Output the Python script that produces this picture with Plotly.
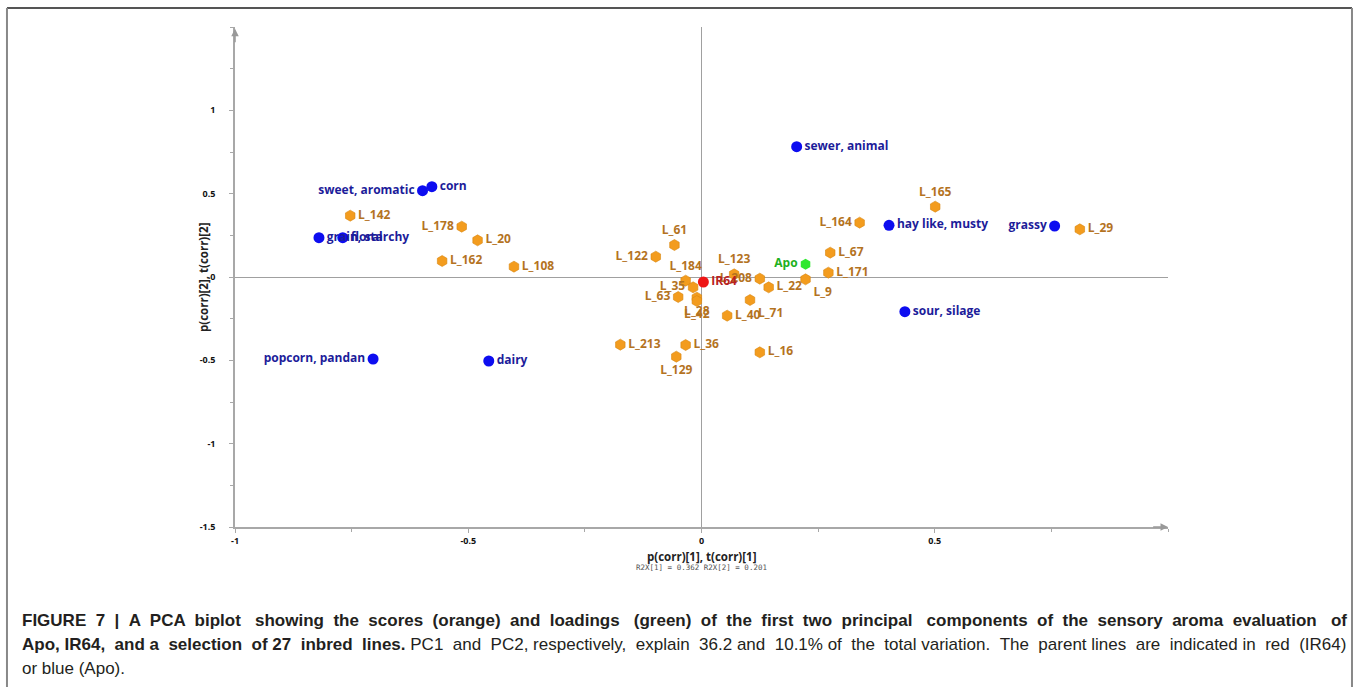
import plotly.graph_objects as go

# ---- PCA scores of the inbred lines (orange) ----
line_names = ["L_165", "L_164", "L_29", "L_67", "L_171", "L_9", "L_22", "L_208",
              "L_123", "L_71", "L_40", "L_16", "L_184", "L_61", "L_122", "L_35",
              "L_63", "L_28", "L_42", "L_213", "L_36", "L_129", "L_142", "L_178",
              "L_20", "L_162", "L_108"]
line_pc1 = [0.501, 0.339, 0.811, 0.276, 0.272, 0.223, 0.144, 0.125,
            0.070, 0.104, 0.055, 0.125, -0.034, -0.058, -0.098, -0.018,
            -0.050, -0.010, -0.010, -0.174, -0.034, -0.054, -0.753, -0.514,
            -0.480, -0.556, -0.402]
line_pc2 = [0.422, 0.326, 0.286, 0.146, 0.026, -0.014, -0.062, -0.010,
            0.016, -0.138, -0.232, -0.452, -0.022, 0.192, 0.122, -0.062,
            -0.120, -0.124, -0.144, -0.406, -0.408, -0.478, 0.368, 0.302,
            0.220, 0.096, 0.062]

# ---- Aroma attribute loadings (blue) ----
attr_names = ["sewer, animal", "hay like, musty", "grassy", "sour, silage",
              "sweet, aromatic", "corn", "grain, starchy", "floral",
              "popcorn, pandan", "dairy"]
attr_pc1 = [0.204, 0.402, 0.757, 0.436, -0.598, -0.578, -0.820, -0.769, -0.704, -0.456]
attr_pc2 = [0.782, 0.310, 0.306, -0.208, 0.518, 0.542, 0.236, 0.236, -0.492, -0.504]

# ---- Parent lines ----
parent_names = ["Apo", "IR64"]
parent_pc1 = [0.223, 0.004]
parent_pc2 = [0.076, -0.030]

# Axis ticks
x_ticks = [-1, -0.5, 0, 0.5]
y_ticks = [-1.5, -1, -0.5, 0, 0.5, 1]

# Where each label sits relative to its marker
label_side = {
    "L_165": "top center", "L_164": "middle left", "L_9": "bottom right",
    "L_208": "middle left", "L_123": "top center", "L_71": "bottom right",
    "L_184": "top center", "L_61": "top center", "L_122": "middle left",
    "L_35": "middle left", "L_63": "middle left", "L_28": "bottom center",
    "L_42": "bottom center", "L_129": "bottom center", "L_178": "middle left",
    "grassy": "middle left", "sweet, aromatic": "middle left",
    "popcorn, pandan": "middle left", "Apo": "middle left",
}


def sides(names):
    return [label_side.get(n, "middle right") for n in names]


LABEL_FONT = "Open Sans"
AXIS_GREY = "#a8a8a8"

fig = go.Figure()

fig.add_trace(go.Scatter(
    x=line_pc1, y=line_pc2, text=line_names, mode="markers+text",
    textposition=sides(line_names),
    marker=dict(symbol="hexagon", size=11, color="#f39c1e",
                line=dict(width=0.6, color="#d8860f")),
    textfont=dict(family=LABEL_FONT, size=12, color="#b4731f", weight="bold"),
    cliponaxis=False, showlegend=False, hoverinfo="text",
))

fig.add_trace(go.Scatter(
    x=attr_pc1, y=attr_pc2, text=attr_names, mode="markers+text",
    textposition=sides(attr_names),
    marker=dict(symbol="circle", size=11, color="#0d0df0"),
    textfont=dict(family=LABEL_FONT, size=12, color="#1c1c9a", weight="bold"),
    cliponaxis=False, showlegend=False, hoverinfo="text",
))

fig.add_trace(go.Scatter(
    x=parent_pc1, y=parent_pc2, text=parent_names, mode="markers+text",
    textposition=sides(parent_names),
    marker=dict(symbol=["hexagon", "circle"], size=11,
                color=["#2ee82e", "#ee1515"]),
    textfont=dict(family=LABEL_FONT, size=12, color=["#20b020", "#b8221f"],
                  weight="bold"),
    cliponaxis=False, showlegend=False, hoverinfo="text",
))

axis_common = dict(
    showgrid=False, showline=True, linecolor=AXIS_GREY, linewidth=1.5,
    zeroline=True, zerolinecolor="#a0a0a0", zerolinewidth=1,
    ticks="outside", ticklen=4, tickcolor=AXIS_GREY, tickwidth=1,
    tickfont=dict(family=LABEL_FONT, size=9, color="#111", weight="bold"),
    minor=dict(ticks="outside", ticklen=3, tickcolor=AXIS_GREY, dtick=0.25),
)

fig.update_xaxes(range=[-1, 1.0], tickvals=x_ticks,
                 ticktext=[f"{v:g}" for v in x_ticks], **axis_common)
fig.update_yaxes(range=[-1.5, 1.5], tickvals=y_ticks,
                 ticktext=[f"{v:g}" for v in y_ticks],
                 ticklabelstandoff=12, **axis_common)

# Axis end arrows
fig.add_annotation(x=1.0, y=-1.5, ax=0.965, ay=-1.5, axref="x", ayref="y",
                   xref="x", yref="y", text="", showarrow=True, arrowhead=2,
                   arrowsize=1, arrowwidth=1.5, arrowcolor="#999")
fig.add_annotation(x=-1.0, y=1.49, ax=-1.0, ay=1.40, axref="x", ayref="y",
                   xref="x", yref="y", text="", showarrow=True, arrowhead=2,
                   arrowsize=1, arrowwidth=1.5, arrowcolor="#999")

# Axis titles
fig.add_annotation(x=0, y=-0.058, xref="x", yref="paper", xanchor="center",
                   yanchor="middle", text="p(corr)[1], t(corr)[1]", showarrow=False,
                   font=dict(family=LABEL_FONT, size=11.5, color="#222", weight="bold"))
fig.add_annotation(x=0, y=-0.080, xref="x", yref="paper", xanchor="center",
                   yanchor="middle", text="R2X[1] = 0.362 R2X[2] = 0.201",
                   showarrow=False,
                   font=dict(family="DejaVu Sans Mono", size=7.5, color="#555"))
fig.add_annotation(x=-0.0343, y=0, xref="paper", yref="y", xanchor="center",
                   yanchor="middle", textangle=-90,
                   text="p(corr)[2], t(corr)[2]", showarrow=False,
                   font=dict(family=LABEL_FONT, size=11.5, color="#222", weight="bold"))


def justify(text, extra):
    """Spread `extra` non-breaking spaces across the word gaps of a line."""
    parts = text.split(" ")
    gaps = len(parts) - 1
    out = parts[0]
    for i in range(gaps):
        add = (i + 1) * extra // gaps - i * extra // gaps
        out += " " + "\u00a0" * add + parts[i + 1]
    return out


# Figure caption
CAP_FONT = dict(family="Liberation Sans", size=17, color="#231f20")
caption_lines = [
    justify("<b>FIGURE 7 | A PCA biplot showing the scores (orange) and loadings (green) of the "
            "first two principal components of the sensory aroma evaluation of</b>", 28),
    justify("<b>Apo, IR64, and a selection of 27 inbred lines.</b> PC1 and PC2, respectively, "
            "explain 36.2 and 10.1% of the total variation. The parent lines are indicated "
            "in red (IR64)", 18),
    "or blue (Apo).",
]
for i, txt in enumerate(caption_lines):
    fig.add_annotation(x=-0.2304, y=-0.186 - 0.048 * i, xref="paper", yref="paper",
                       xanchor="left", yanchor="middle", text=txt,
                       showarrow=False, font=CAP_FONT)

# Outer frame (open at the bottom)
frame = dict(xref="paper", yref="paper", type="line")
fig.add_shape(x0=-0.2444, x1=1.1972, y0=1.038, y1=1.038,
              line=dict(color="#555", width=2), **frame)
fig.add_shape(x0=-0.2444, x1=-0.2444, y0=1.038, y1=-0.32,
              line=dict(color="#888", width=2), **frame)
fig.add_shape(x0=1.1972, x1=1.1972, y0=1.038, y1=-0.32,
              line=dict(color="#888", width=2), **frame)

fig.update_layout(
    width=1358, height=687,
    margin=dict(l=235, r=190, t=27, b=160),
    paper_bgcolor="white", plot_bgcolor="white",
)

fig.write_html("out.html")
